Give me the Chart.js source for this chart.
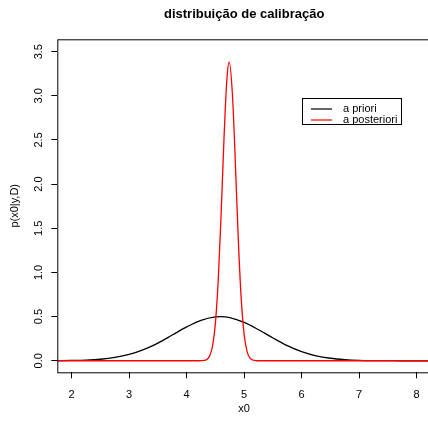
<!DOCTYPE html>
<html lang="pt">
  <head>
    <meta charset="UTF-8" />
    <title>distribuição de calibração</title>
    <script src="https://cdn.jsdelivr.net/npm/chart.js"></script>
    <style>
      body {
        margin: 0;
        background: #fff;
        overflow: hidden;
        width: 428px;
        height: 423px;
      }
    </style>
  </head>
  <body>
    <canvas id="calib" width="440" height="423"></canvas>

    <script>
      const chartTitle = "distribuição de calibração"
      const xTitle = "x0"
      const yTitle = "p(x0|y,D)"
      const seriesNames = ["a priori", "a posteriori"]

      // a priori (black)
      const prioriX = [1.75, 2.0, 2.25, 2.5, 2.75, 3.0, 3.25, 3.5, 3.75, 4.0, 4.25, 4.5, 4.6, 4.75, 5.0, 5.25, 5.5, 5.75, 6.0, 6.25, 6.5, 6.75, 7.0, 7.25, 7.5, 7.75, 8.0, 8.25]
      const prioriY = [0.001, 0.003, 0.007, 0.017, 0.037, 0.071, 0.125, 0.2, 0.291, 0.383, 0.458, 0.496, 0.499, 0.488, 0.434, 0.351, 0.258, 0.171, 0.103, 0.056, 0.028, 0.013, 0.005, 0.002, 0.001, 0.0, 0.0, 0.0]

      // a posteriori (red)
      const posterioriX = [1.75, 4.2, 4.25, 4.3, 4.35, 4.4, 4.45, 4.5, 4.55, 4.6, 4.65, 4.7, 4.74, 4.8, 4.85, 4.9, 4.95, 5.0, 5.05, 5.1, 5.15, 5.2, 5.25, 5.3, 8.25]
      const posterioriY = [0.0, 0.0, 0.001, 0.003, 0.014, 0.053, 0.164, 0.426, 0.922, 1.67, 2.526, 3.191, 3.38, 2.97, 2.187, 1.346, 0.692, 0.297, 0.107, 0.032, 0.008, 0.002, 0.0, 0.0, 0.0]

      const xTicks = [2, 3, 4, 5, 6, 7, 8]
      const yTicks = [0, 0.5, 1, 1.5, 2, 2.5, 3, 3.5]

      const toPoints = (xs, ys) => xs.map((x, i) => ({ x: x, y: ys[i] }))

      const font = "'Liberation Sans', Arial, sans-serif"

      // R-like decorations: box, rotated y labels, titles, legend
      const rStyle = {
        id: "rStyle",
        afterDraw(chart) {
          const ctx = chart.ctx
          const area = chart.chartArea
          const yScale = chart.scales.y
          ctx.save()
          ctx.strokeStyle = "#000"
          ctx.lineWidth = 1
          ctx.strokeRect(area.left + 0.5, area.top + 0.5, area.right - area.left, area.bottom - area.top)

          ctx.fillStyle = "#000"
          ctx.font = "11px " + font
          ctx.textAlign = "center"
          ctx.textBaseline = "middle"
          yScale.ticks.forEach((t) => {
            const py = yScale.getPixelForValue(t.value)
            ctx.save()
            ctx.translate(39, py)
            ctx.rotate(-Math.PI / 2)
            ctx.fillText(t.value.toFixed(1), 0, 0)
            ctx.restore()
          })

          const midX = (area.left + area.right) / 2
          const midY = (area.top + area.bottom) / 2
          ctx.save()
          ctx.translate(15, midY)
          ctx.rotate(-Math.PI / 2)
          ctx.fillText(yTitle, 0, 0)
          ctx.restore()
          ctx.fillText(xTitle, midX, 409)

          ctx.font = "bold 13px " + font
          ctx.fillText(chartTitle, midX, 14)

          // legend
          ctx.font = "11px " + font
          ctx.strokeRect(302.5, 98.5, 99, 26)
          ctx.textAlign = "left"
          const rows = [109, 120]
          chart.data.datasets.forEach((ds, i) => {
            ctx.strokeStyle = ds.borderColor
            ctx.lineWidth = 1.2
            ctx.beginPath()
            ctx.moveTo(311, rows[i])
            ctx.lineTo(332, rows[i])
            ctx.stroke()
            ctx.fillText(ds.label, 343, rows[i])
          })
          ctx.restore()
        },
      }

      new Chart(document.getElementById("calib"), {
        type: "line",
        data: {
          datasets: [
            {
              label: seriesNames[0],
              data: toPoints(prioriX, prioriY),
              borderColor: "#000000",
              borderWidth: 1.3,
              pointRadius: 0,
              cubicInterpolationMode: "monotone",
              order: 2,
            },
            {
              label: seriesNames[1],
              data: toPoints(posterioriX, posterioriY),
              borderColor: "#ff0000",
              borderWidth: 1.3,
              pointRadius: 0,
              cubicInterpolationMode: "monotone",
              order: 1,
            },
          ],
        },
        options: {
          responsive: false,
          animation: false,
          layout: { padding: { top: 39.3, right: 9, left: 0, bottom: 0 } },
          plugins: {
            legend: { display: false },
            title: { display: false },
            tooltip: { enabled: false },
          },
          scales: {
            x: {
              type: "linear",
              min: 1.75,
              max: 8.25,
              afterBuildTicks: (s) => {
                s.ticks = xTicks.map((v) => ({ value: v }))
              },
              afterFit: (s) => {
                s.height = 50.7
              },
              grid: {
                drawOnChartArea: false,
                drawTicks: true,
                tickLength: 6,
                color: "#000",
              },
              border: { display: false },
              ticks: {
                color: "#000",
                font: { family: font, size: 11 },
                padding: 10,
                maxRotation: 0,
                autoSkip: false,
              },
            },
            y: {
              min: -0.131,
              max: 3.64,
              afterBuildTicks: (s) => {
                s.ticks = yTicks.map((v) => ({ value: v }))
              },
              afterFit: (s) => {
                s.width = 57.3
              },
              grid: {
                drawOnChartArea: false,
                drawTicks: true,
                tickLength: 6,
                color: "#000",
              },
              border: { display: false },
              ticks: { display: false, autoSkip: false },
            },
          },
        },
        plugins: [rStyle],
      })
    </script>
  </body>
</html>
